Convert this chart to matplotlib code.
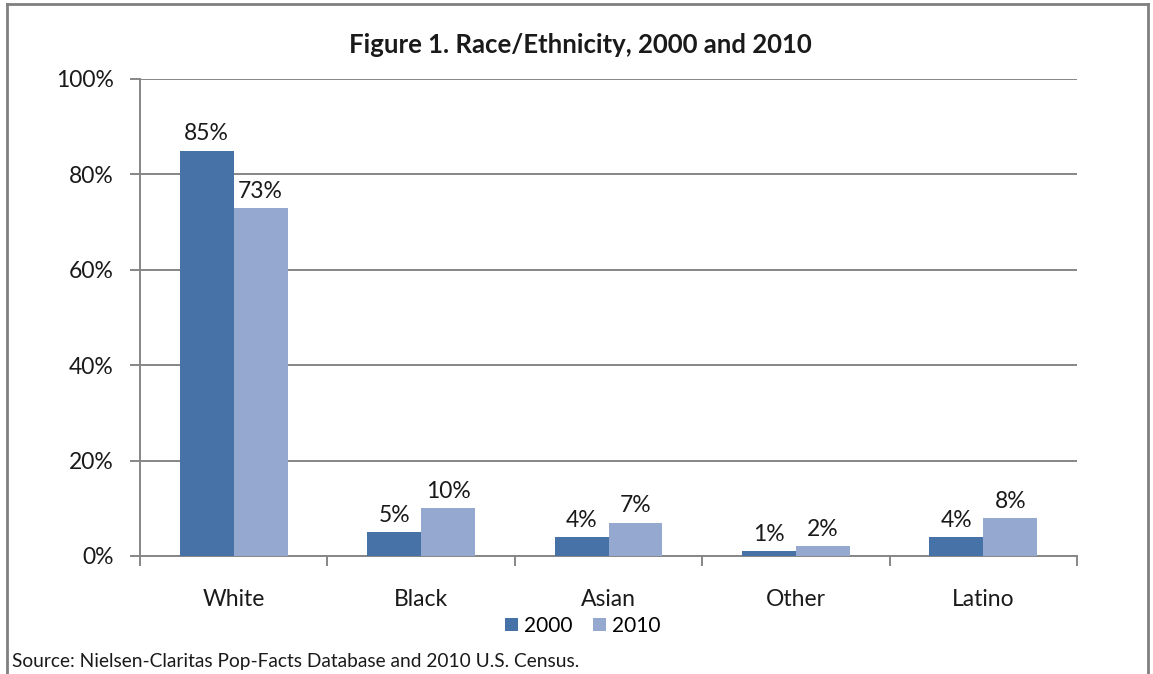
import matplotlib
matplotlib.use("Agg")
import matplotlib.pyplot as plt
import numpy as np
from matplotlib.ticker import FuncFormatter

categories = ["White", "Black", "Asian", "Other", "Latino"]
series_names = ["2000", "2010"]
values_2000 = [85, 5, 4, 1, 4]
values_2010 = [73, 10, 7, 2, 8]
yticks = [0, 20, 40, 60, 80, 100]

plt.rcParams['font.family'] = ['Lato', 'DejaVu Sans']

W, H = 1153, 674
fig = plt.figure(figsize=(W / 100, H / 100), dpi=100)
ax = fig.add_axes([140 / W, 1 - 556 / H, (1077 - 140) / W, (556 - 79) / H])

c2000 = "#4672A8"
c2010 = "#95A9D0"
grid_c = "#868686"
txt_c = "#1a1a1a"

x = np.arange(len(categories))
bw = 0.288
b1 = ax.bar(x - bw / 2, values_2000, bw, color=c2000, label=series_names[0], zorder=3)
b2 = ax.bar(x + bw / 2, values_2010, bw, color=c2010, label=series_names[1], zorder=3)

for bars, vals in ((b1, values_2000), (b2, values_2010)):
    for r, v in zip(bars, vals):
        ax.text(r.get_x() + r.get_width() / 2, v + 1.3, f"{v}%", ha="center", va="bottom",
                fontsize=16.5, color=txt_c)

ax.set_xlim(-0.5, len(categories) - 0.5)
ax.set_ylim(0, 100)
ax.set_yticks(yticks)
ax.yaxis.set_major_formatter(FuncFormatter(lambda v, p: f"{int(v)}%"))
ax.yaxis.grid(True, color=grid_c, linewidth=1.4, zorder=0)
ax.set_axisbelow(True)

ax.set_xticks(x)
ax.set_xticklabels(categories, fontsize=16.5, color=txt_c)
ax.set_xticks(np.arange(-0.5, len(categories)), minor=True)
ax.tick_params(axis="x", which="major", length=0, pad=24)
ax.tick_params(axis="x", which="minor", length=7, color=grid_c, width=1.4)
ax.tick_params(axis="y", length=7, color=grid_c, width=1.4, labelsize=16.5, labelcolor=txt_c, pad=12)

for s in ("top", "right"):
    ax.spines[s].set_visible(False)
for s in ("left", "bottom"):
    ax.spines[s].set_color(grid_c)
    ax.spines[s].set_linewidth(1.4)

fig.text(580 / W, 1 - 45 / H, "Figure 1. Race/Ethnicity, 2000 and 2010", ha="center", va="center",
         fontsize=18.5, fontweight="bold", color=txt_c)

fig.legend(handles=[b1, b2], labels=series_names, loc="center", bbox_to_anchor=(583 / W, 1 - 626 / H),
           ncol=2, frameon=False, fontsize=15, handlelength=0.6, handleheight=0.6,
           handletextpad=0.3, columnspacing=1.0)

fig.text(12 / W, 1 - 662 / H, "Source: Nielsen-Claritas Pop-Facts Database and 2010 U.S. Census.",
         ha="left", va="center", fontsize=13.8, color=txt_c)

# figure border (left, top, right)
bc = "#808080"
fig.add_artist(plt.Line2D([7 / W, 7 / W], [0, 1 - 4 / H], transform=fig.transFigure, color=bc, lw=2))
fig.add_artist(plt.Line2D([7 / W, 1148 / W], [1 - 4 / H, 1 - 4 / H], transform=fig.transFigure, color=bc, lw=2))
fig.add_artist(plt.Line2D([1148 / W, 1148 / W], [0, 1 - 4 / H], transform=fig.transFigure, color=bc, lw=2))

fig.savefig("out.png", dpi=100)
